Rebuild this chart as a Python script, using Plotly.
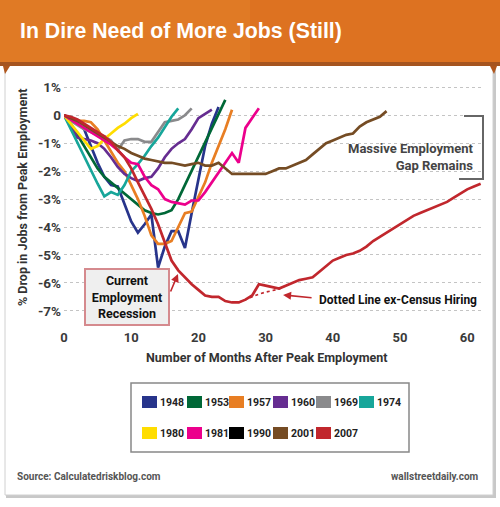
import plotly.graph_objects as go

# ---------------- data ----------------
m1948 = list(range(0, 24))
v1948 = [0, -0.1, -0.3, -0.5, -1.1, -1.7, -2.2, -2.5, -2.55, -3.2, -3.8, -4.2, -3.9, -3.55,
         -5.45, -4.7, -4.15, -4.15, -4.75, -3.5, -2.3, -1.1, -0.3, 0.3]
m1953 = list(range(0, 25))
v1953 = [0, -0.3, -0.7, -1.1, -1.5, -1.9, -2.2, -2.4, -2.6, -2.8, -3.0, -3.2, -3.4, -3.5,
         -3.55, -3.5, -3.4, -3.0, -2.5, -2.0, -1.5, -1.0, -0.5, 0.0, 0.55]
m1957 = list(range(0, 26))
v1957 = [0, -0.15, -0.2, -0.2, -0.25, -0.5, -0.9, -1.3, -1.7, -2.0, -2.5, -3.0, -3.6, -4.3,
         -4.6, -4.6, -4.5, -4.0, -3.5, -3.45, -2.9, -2.4, -1.7, -1.1, -0.5, 0.2]
m1960 = list(range(0, 23))
v1960 = [0, -0.4, -0.8, -0.85, -0.9, -1.0, -1.2, -1.5, -1.85, -2.1, -2.25, -2.35, -2.25, -2.2,
         -1.9, -1.5, -1.2, -1.0, -0.85, -0.5, -0.1, 0.05, 0.2]
m1969 = list(range(0, 20))
v1969 = [0, -0.2, -0.35, -0.5, -0.6, -0.7, -0.75, -0.9, -1.25, -0.9, -0.85, -0.85, -0.95, -0.95,
         -0.6, -0.25, -0.2, -0.15, 0.0, 0.25]
m1974 = list(range(0, 18))
v1974 = [0, -0.5, -1.0, -1.5, -2.0, -2.45, -2.9, -2.75, -2.85, -2.5, -2.0, -1.75, -1.45, -1.1,
         -0.8, -0.4, -0.05, 0.25]
m1980 = list(range(0, 12))
v1980 = [0, -0.3, -0.6, -0.9, -1.2, -1.1, -0.85, -0.65, -0.45, -0.3, -0.1, 0.05]
m1981 = list(range(0, 30))
v1981 = [0, -0.15, -0.3, -0.45, -0.6, -0.75, -0.9, -1.05, -1.25, -1.5, -1.7, -1.75, -2.2, -2.5,
         -2.65, -3.0, -3.1, -3.15, -3.2, -3.05, -3.05, -2.75, -2.4, -2.05, -1.7, -1.35, -1.7,
         -0.45, -0.1, 0.25]
m2001 = list(range(0, 49))
v2001 = [0, -0.1, -0.2, -0.35, -0.5, -0.65, -0.8, -0.95, -1.1, -1.2, -1.35, -1.45, -1.55, -1.6,
         -1.65, -1.7, -1.7, -1.75, -1.8, -1.75, -1.7, -1.8, -1.8, -1.7, -1.9, -2.1, -2.1, -2.1,
         -2.1, -2.1, -2.1, -2.0, -1.9, -1.9, -1.8, -1.7, -1.6, -1.4, -1.2, -1.0, -0.9, -0.8,
         -0.7, -0.65, -0.4, -0.25, -0.15, -0.05, 0.15]
m2007 = list(range(0, 63))
v2007 = [0, -0.05, -0.15, -0.3, -0.45, -0.6, -0.75, -0.95, -1.25, -1.5, -1.9, -2.4, -2.85, -3.35,
         -3.9, -4.55, -5.2, -5.55, -5.8, -6.05, -6.25, -6.45, -6.5, -6.5, -6.65, -6.7, -6.7,
         -6.6, -6.45, -6.05, -6.1, -6.15, -6.2, -6.1, -6.0, -5.9, -5.85, -5.8, -5.6, -5.4, -5.2,
         -5.1, -5.0, -4.95, -4.85, -4.7, -4.5, -4.35, -4.2, -4.05, -3.9, -3.75, -3.6, -3.5,
         -3.4, -3.3, -3.2, -3.1, -2.95, -2.8, -2.65, -2.55, -2.45]
m_census = [26, 27, 28, 29, 30, 31, 32, 33]
v_census = [-6.7, -6.6, -6.5, -6.4, -6.33, -6.27, -6.22, -6.1]

legend_names = ["1948", "1953", "1957", "1960", "1969", "1974",
                "1980", "1981", "1990", "2001", "2007"]
legend_colors = ["#27348b", "#006837", "#e87e23", "#662d91", "#8a8a8c", "#17a69a",
                 "#ffdd00", "#ec008c", "#000000", "#754c24", "#c1272d"]

series = [("1948", m1948, v1948), ("1953", m1953, v1953), ("1957", m1957, v1957),
          ("1960", m1960, v1960), ("1969", m1969, v1969), ("1974", m1974, v1974),
          ("1980", m1980, v1980), ("1981", m1981, v1981), ("2001", m2001, v2001),
          ("2007", m2007, v2007)]

y_ticks = [1, 0, -1, -2, -3, -4, -5, -6, -7]
y_ticktext = ["1%", "0", "-1%", "-2%", "-3%", "-4%", "-5%", "-6%", "-7%"]
x_ticks = [0, 10, 20, 30, 40, 50, 60]

# ---------------- layout geometry ----------------
W, H = 500, 507
L, R, T, B = 64, 482, 79, 322
def px(xp):
    return (xp - L) / (R - L)
def py(yp):
    return (B - yp) / (B - T)

COND = "Roboto, Liberation Sans, Arial, sans-serif"
color_of = dict(zip(legend_names, legend_colors))

fig = go.Figure()
for name, xs, ys in series:
    fig.add_trace(go.Scatter(x=xs, y=ys, mode="lines", name=name,
                             line=dict(color=color_of[name], width=2.7),
                             showlegend=False, hoverinfo="skip"))
fig.add_trace(go.Scatter(x=m_census, y=v_census, mode="lines", showlegend=False,
                         line=dict(color=color_of["2007"], width=1.6, dash="dot"),
                         hoverinfo="skip"))

shapes = []
annotations = []

# panel shadow + panel
shapes.append(dict(type="rect", xref="paper", yref="paper", layer="below",
                   x0=px(6), x1=px(496), y0=py(64), y1=py(498),
                   fillcolor="#c8c8c8", line=dict(width=0)))
shapes.append(dict(type="rect", xref="paper", yref="paper", layer="below",
                   x0=px(5), x1=px(493), y0=py(63), y1=py(495),
                   fillcolor="white", line=dict(color="#d0d0d0", width=1)))
# header bar
shapes.append(dict(type="rect", xref="paper", yref="paper", layer="above",
                   x0=px(0), x1=px(500), y0=py(0), y1=py(63),
                   fillcolor="#e07a25", line=dict(width=0)))
shapes.append(dict(type="rect", xref="paper", yref="paper", layer="above",
                   x0=px(250), x1=px(500), y0=py(0), y1=py(63),
                   fillcolor="#db6d20", line=dict(width=0), opacity=0.6))
shapes.append(dict(type="rect", xref="paper", yref="paper", layer="above",
                   x0=px(0), x1=px(500), y0=py(62), y1=py(66),
                   fillcolor="#a5541f", line=dict(width=0)))
# small folds
shapes.append(dict(type="path", xref="paper", yref="paper", layer="above",
                   path=f"M {px(3)},{py(66)} L {px(10)},{py(66)} L {px(5)},{py(74)} Z",
                   fillcolor="#b0561c", line=dict(width=0)))
shapes.append(dict(type="path", xref="paper", yref="paper", layer="above",
                   path=f"M {px(490)},{py(66)} L {px(497)},{py(66)} L {px(494)},{py(74)} Z",
                   fillcolor="#b0561c", line=dict(width=0)))

annotations.append(dict(text="In Dire Need of More Jobs (Still)", xref="paper", yref="paper",
                        x=px(18), y=py(31), xanchor="left", yanchor="middle", showarrow=False,
                        font=dict(family="Liberation Sans, Arial, sans-serif", size=21.3,
                                  color="white", weight="bold")))

# axis titles
annotations.append(dict(text="% Drop in Jobs from Peak Employment", xref="paper", yref="paper",
                        x=px(22), y=py(198), textangle=-90, showarrow=False,
                        xanchor="center", yanchor="middle",
                        font=dict(family=COND, size=12.5, color="#333333", weight="bold")))
annotations.append(dict(text="Number of Months After Peak Employment", xref="paper", yref="paper",
                        x=px(267), y=py(357), showarrow=False, xanchor="center", yanchor="middle",
                        font=dict(family=COND, size=12.5, color="#333333", weight="bold")))

# massive employment gap
annotations.append(dict(text="Massive Employment<br>Gap Remains", xref="paper", yref="paper",
                        x=px(476), y=py(157), xanchor="right", yanchor="middle", align="right",
                        showarrow=False,
                        font=dict(family=COND, size=13, color="#444444", weight="bold")))
shapes.append(dict(type="path", xref="paper", yref="paper",
                   path=f"M {px(464)},{py(116)} L {px(483)},{py(116)} L {px(483)},{py(179)} L {px(459)},{py(179)}",
                   line=dict(color="#666666", width=2)))

# dotted line note
annotations.append(dict(text="Dotted Line ex-Census Hiring", xref="paper", yref="paper",
                        x=px(317), y=py(300), xanchor="left", yanchor="middle", showarrow=False,
                        font=dict(family=COND, size=12, color="#111111", weight="bold")))
annotations.append(dict(text="", x=32.6, y=-6.43, xref="x", yref="y", ax=30, ay=3,
                        showarrow=True, arrowhead=2, arrowsize=1, arrowwidth=1.6,
                        arrowcolor="#c1272d"))

# current recession box
annotations.append(dict(text="Current<br>Employment<br>Recession", xref="paper", yref="paper",
                        x=px(127), y=py(297), xanchor="center", yanchor="middle",
                        showarrow=False, width=80, height=52, bgcolor="#efefef",
                        bordercolor="#d58a8e", borderwidth=2, borderpad=1,
                        font=dict(family=COND, size=12.5, color="#111111", weight="bold")))
annotations.append(dict(text="", x=16.96, y=-5.68, xref="x", yref="y", ax=-8, ay=19,
                        showarrow=True, arrowhead=2, arrowsize=1, arrowwidth=1.6,
                        arrowcolor="#c1272d"))

# legend (manual box)
shapes.append(dict(type="rect", xref="paper", yref="paper",
                   x0=px(131), x1=px(409), y0=py(383), y1=py(452),
                   fillcolor="white", line=dict(color="#888888", width=1.5)))
col_x = [142, 187, 229, 273, 316, 359]
for i, (nm, col) in enumerate(zip(legend_names, legend_colors)):
    r, c = divmod(i, 6)
    yc = 402 if r == 0 else 433
    x0 = col_x[c]
    shapes.append(dict(type="rect", xref="paper", yref="paper",
                       x0=px(x0), x1=px(x0 + 15), y0=py(yc - 6), y1=py(yc + 6),
                       fillcolor=col, line=dict(width=0)))
    annotations.append(dict(text=nm, xref="paper", yref="paper", x=px(x0 + 15.5), y=py(yc),
                            xanchor="left", yanchor="middle", showarrow=False,
                            font=dict(family=COND, size=10.5, color="#222222", weight="bold")))

# footer
annotations.append(dict(text="Source: Calculatedriskblog.com", xref="paper", yref="paper",
                        x=px(15), y=py(477), xanchor="left", yanchor="middle", showarrow=False,
                        font=dict(family=COND, size=10, color="#555555", weight="bold")))
annotations.append(dict(text="wallstreetdaily.com", xref="paper", yref="paper",
                        x=px(481), y=py(477), xanchor="right", yanchor="middle", showarrow=False,
                        font=dict(family=COND, size=10, color="#555555", weight="bold")))

fig.update_layout(
    width=W, height=H,
    margin=dict(l=L, r=W - R, t=T, b=H - B),
    paper_bgcolor="white", plot_bgcolor="rgba(0,0,0,0)",
    showlegend=False,
    shapes=shapes, annotations=annotations,
    xaxis=dict(range=[0, 62.2], tickvals=x_ticks, showgrid=False, zeroline=False,
               showline=False, ticks="", ticklabelstandoff=6,
               tickfont=dict(family=COND, size=13, color="#3a3a3a", weight="bold")),
    yaxis=dict(range=[-7.4, 1.3], tickvals=y_ticks, ticktext=y_ticktext,
               showgrid=True, gridcolor="#c4c4c4", griddash="dot", gridwidth=1,
               zeroline=False, showline=False, ticks="", ticklabelstandoff=2,
               tickfont=dict(family=COND, size=13.5, color="#3a3a3a", weight="bold")),
)

fig.write_html("out.html", config={"displayModeBar": False},
               post_script="document.body.style.margin='0';")
